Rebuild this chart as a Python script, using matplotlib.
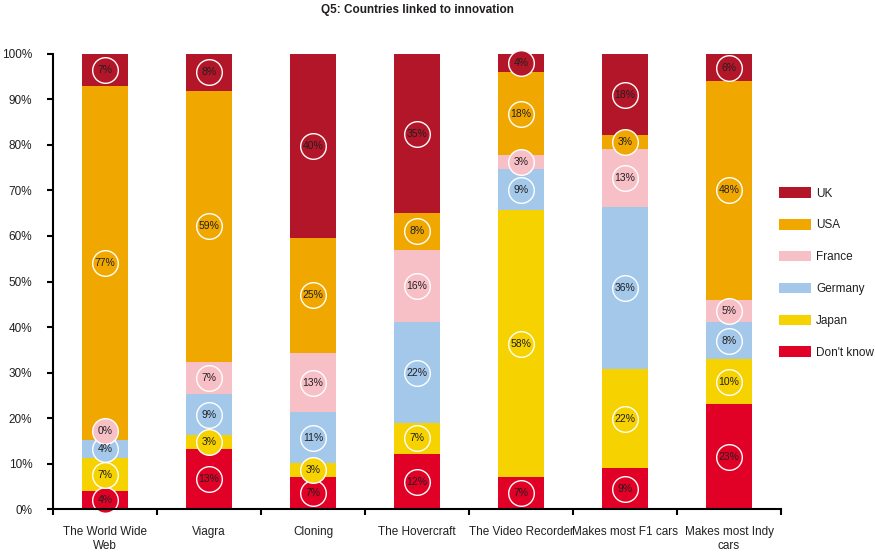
import matplotlib
matplotlib.use("Agg")
import matplotlib.pyplot as plt
import numpy as np

plt.rcParams['font.family'] = ['Liberation Sans', 'DejaVu Sans']

categories = ["The World Wide\nWeb", "Viagra", "Cloning", "The Hovercraft",
              "The Video Recorder", "Makes most F1 cars", "Makes most Indy\ncars"]

# percentages, bottom to top
dont_know = [4, 13, 7, 12, 7, 9, 23]
japan = [7, 3, 3, 7, 58, 22, 10]
germany = [4, 9, 11, 22, 9, 36, 8]
france = [0, 7, 13, 16, 3, 13, 5]
usa = [77, 59, 25, 8, 18, 3, 48]
uk = [7, 8, 40, 35, 4, 18, 6]

series_names = ["Don't know", "Japan", "Germany", "France", "USA", "UK"]
series = [dont_know, japan, germany, france, usa, uk]
colors = ["#E10026", "#F5D200", "#A3C8EA", "#F7C0C7", "#F0A800", "#B31629"]
text_col = "#231f20"

data = np.array(series, dtype=float)
shares = data / data.sum(axis=0) * 100

fig = plt.figure(figsize=(8.75, 5.56), dpi=100)
ax = fig.add_axes([0.0606, 0.0845, 0.832, 0.8184])

x = np.arange(len(categories))
bottom = np.zeros(len(categories))
handles = []
label_pos = []
for vals, name, col in zip(shares, series_names, colors):
    b = ax.bar(x, vals, 0.45, bottom=bottom, color=col, label=name, zorder=2)
    handles.append(b)
    label_pos.append(bottom + vals / 2)
    bottom = bottom + vals

# circled labels, nudged up so circles do not overlap
for i in range(len(categories)):
    prev = -100
    for k in range(len(series)):
        y = max(label_pos[k][i], prev + 4.0)
        prev = y
        ax.scatter(x[i], y, s=340, facecolor=colors[k], edgecolor="white",
                   linewidth=1.0, zorder=3, clip_on=False)
        ax.text(x[i], y, f"{series[k][i]}%", ha="center", va="center",
                fontsize=7.5, color=text_col, zorder=4)

fs = 8.5
ax.set_xlim(-0.5, len(categories) - 0.5)
ax.set_ylim(0, 100)
ax.set_yticks(np.arange(0, 101, 10))
ax.set_yticklabels([f"{v}%" for v in range(0, 101, 10)], fontsize=fs, color=text_col)
ax.set_xticks(x)
ax.set_xticklabels(categories, fontsize=fs, color=text_col, linespacing=1.25)
ax.set_xticks(np.arange(-0.5, len(categories)), minor=True)
ax.tick_params(axis="x", which="major", length=0, pad=12)
ax.tick_params(axis="x", which="minor", length=4, width=1.5, direction="out")
ax.tick_params(axis="y", length=4, width=1.5, direction="out", pad=11)

for s in ["top", "right"]:
    ax.spines[s].set_visible(False)
for s in ["left", "bottom"]:
    ax.spines[s].set_linewidth(1.5)
    ax.spines[s].set_color("black")
    ax.spines[s].set_zorder(5)

fig.text(0.4766, 0.982, "Q5: Countries linked to innovation", fontsize=fs,
         fontweight="bold", color=text_col, ha="center", va="center")

fig.legend(handles[::-1], series_names[::-1], loc="center left",
           bbox_to_anchor=(0.878, 0.509), frameon=False, fontsize=fs,
           handlelength=2.7, handleheight=1.0, labelspacing=1.65,
           handletextpad=0.45, labelcolor=text_col)

fig.savefig("out.png", dpi=100)
